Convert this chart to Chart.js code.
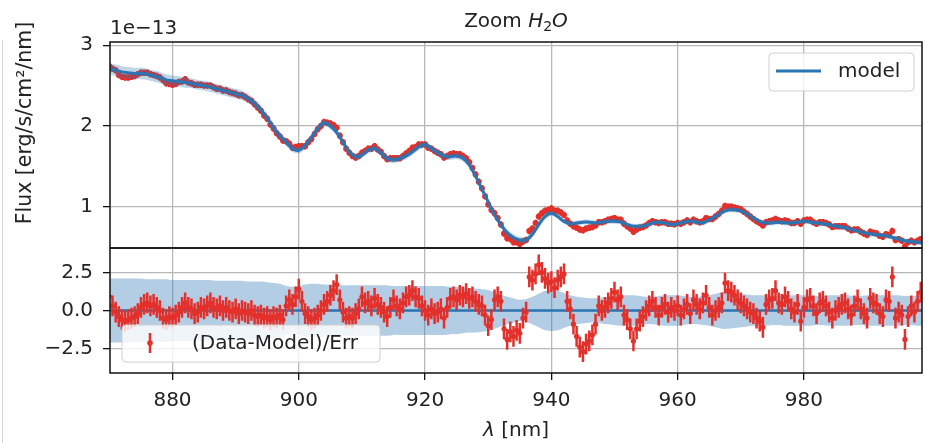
<!DOCTYPE html>
<html>
<head>
<meta charset="utf-8">
<script src="https://cdn.jsdelivr.net/npm/chart.js@4.4.0/dist/chart.umd.min.js"></script>
<style>
  html, body { margin: 0; padding: 0; background: #fff; }
  #wrap { position: relative; width: 926px; height: 443px; overflow: hidden; }
  #wrap canvas { position: absolute; left: 0; top: 0; }
  #edge { position: absolute; left: 2px; top: 40px; width: 1px; height: 403px; background: #d4d4d4; }
</style>
</head>
<body>
<div id="wrap">
  <canvas id="fluxChart" width="926" height="443"></canvas>
  <canvas id="residChart" width="926" height="443"></canvas>
  <div id="edge"></div>
</div>
<script>
// data grid: 0.5 nm for measured points, 1 nm for the model
const dataStart = 870, dataStep = 0.5;
const modelStart = 870, modelStep = 1;

// (data - model) / err
const resid = [
  0.9, 0.3, -0.1, -0.4, -0.6, -0.7, -0.6, -0.5, -0.4, -0.2,
  0.2, 0.4, 0.5, 0.3, 0.4, 0.2, 0.0, -0.5, -0.6, -0.4,
  -0.5, -0.3, -0.1, 0.2, 0.5, 0.2, 0.1, -0.2, -0.1, 0.2,
  0.1, 0.3, 0.5, 0.2, 0.1, 0.3, 0.0, 0.2, 0.0, -0.1,
  0.1, -0.2, 0.0, -0.1, -0.2, 0.0, -0.3, -0.4, -0.3, -0.5,
  -0.4, -0.6, -0.4, -0.5, -0.3, -0.6, 0.3, 0.7, 0.4, 0.9,
  1.4, 0.6, -0.2, -0.4, -0.6, -0.5, -0.3, 0.0, 0.4, 0.6,
  1.0, 1.3, 1.7, 0.7, -0.1, -0.5, -0.4, -0.5, -0.2, 0.1,
  0.9, 0.5, 0.6, 0.3, 0.8, 0.4, 0.2, -0.1, -0.4, 0.2,
  0.7, 0.3, 0.1, 0.5, 0.9, 1.0, 1.3, 0.9, 0.8, 0.3,
  0.0, -0.3, 0.1, -0.2, -0.1, 0.1, -0.5, 0.2, 0.8, 0.9,
  0.7, 1.0, 0.9, 1.1, 0.8, 0.9, 0.6, 0.4, 0.3, -0.3,
  -1.0, -0.6, 0.7, 0.9, 0.6, -1.2, -1.9, -1.4, -1.7, -1.3,
  -1.5, -0.5, -0.1, 2.2, 2.0, 2.4, 3.0, 2.5, 2.1, 1.8,
  1.9, 1.5, 2.0, 2.2, 2.4, 0.6, 0.1, -0.9, -1.7, -2.4,
  -2.7, -2.2, -2.0, -1.6, -0.9, 0.3, 0.0, 0.2, 0.5, 0.8,
  1.2, 0.7, 0.9, -0.3, -0.6, -1.2, -2.0, -1.2, -0.7, -0.4,
  0.0, 0.3, 0.6, 0.2, -0.3, 0.2, 0.4, -0.1, 0.2, 0.0,
  0.3, -0.3, 0.1, 0.4, -0.2, 0.7, 0.4, 0.1, 0.5, 1.0,
  0.2, -0.3, 0.0, 0.2, 0.5, 1.8, 1.3, 1.2, 1.0, 0.7,
  0.5, 0.3, 0.1, -0.1, -0.2, -0.5, -0.7, -1.1, 0.4, 0.7,
  0.8, 1.3, 0.5, 0.4, 0.9, 0.6, 0.1, -0.1, 0.4, -0.7,
  0.2, 0.7, 0.8, 0.3, -0.2, 0.5, 0.6, 0.3, -0.1, -0.5,
  0.0, 0.2, 0.4, 0.5, 0.1, -0.3, 0.3, 0.7, 0.1, -0.2,
  -0.5, 0.8, 0.5, 0.4, -0.2, -0.4, 0.7, 0.6, 2.2, -0.5,
  -0.1, -0.3, -1.9, -0.4, 0.3, -0.1, 0.6, 1.2
];

// measured flux, units of 1e-13 erg/s/cm2/nm
const fluxData = [
  2.74, 2.71, 2.69, 2.63, 2.61, 2.60, 2.60, 2.61, 2.62, 2.64,
  2.66, 2.66, 2.66, 2.64, 2.63, 2.62, 2.60, 2.57, 2.53, 2.52,
  2.51, 2.52, 2.545, 2.55, 2.58, 2.54, 2.53, 2.51, 2.51, 2.51,
  2.50, 2.50, 2.50, 2.48, 2.46, 2.46, 2.44, 2.44, 2.42, 2.41,
  2.40, 2.38, 2.38, 2.36, 2.33, 2.31, 2.27, 2.23, 2.19, 2.13,
  2.09, 2.02, 1.97, 1.91, 1.87, 1.82, 1.81, 1.78, 1.73, 1.74,
  1.75, 1.75, 1.75, 1.80, 1.84, 1.90, 1.96, 2.00, 2.05, 2.04,
  2.03, 2.01, 1.98, 1.88, 1.80, 1.72, 1.67, 1.63, 1.61, 1.63,
  1.67, 1.69, 1.72, 1.72, 1.75, 1.71, 1.68, 1.63, 1.59, 1.60,
  1.60, 1.60, 1.60, 1.63, 1.66, 1.69, 1.73, 1.74, 1.77, 1.77,
  1.77, 1.73, 1.72, 1.69, 1.67, 1.65, 1.61, 1.63, 1.65, 1.66,
  1.65, 1.65, 1.63, 1.60, 1.55, 1.48, 1.40, 1.31, 1.23, 1.13,
  1.03, 0.96, 0.92, 0.86, 0.78, 0.67, 0.61, 0.60, 0.56, 0.56,
  0.54, 0.57, 0.59, 0.70, 0.73, 0.80, 0.88, 0.92, 0.95, 0.96,
  0.98, 0.95, 0.95, 0.93, 0.90, 0.83, 0.79, 0.76, 0.74, 0.72,
  0.71, 0.73, 0.74, 0.75, 0.77, 0.81, 0.81, 0.82, 0.84, 0.85,
  0.86, 0.84, 0.84, 0.79, 0.76, 0.73, 0.69, 0.72, 0.74, 0.75,
  0.77, 0.80, 0.82, 0.81, 0.80, 0.81, 0.81, 0.79, 0.79, 0.785,
  0.80, 0.79, 0.81, 0.83, 0.81, 0.84, 0.82, 0.81, 0.82, 0.86,
  0.85, 0.85, 0.88, 0.91, 0.95, 1.01, 1.00, 1.00, 0.99, 0.98,
  0.97, 0.94, 0.91, 0.88, 0.85, 0.82, 0.80, 0.77, 0.81, 0.82,
  0.83, 0.85, 0.83, 0.82, 0.83, 0.82, 0.80, 0.80, 0.82, 0.79,
  0.83, 0.84, 0.84, 0.81, 0.79, 0.81, 0.81, 0.80, 0.78, 0.75,
  0.76, 0.76, 0.76, 0.76, 0.73, 0.71, 0.72, 0.72, 0.69, 0.67,
  0.65, 0.69, 0.68, 0.67, 0.64, 0.63, 0.66, 0.65, 0.70, 0.59,
  0.60, 0.58, 0.51, 0.56, 0.58, 0.56, 0.58, 0.60
];
const fluxErr = 0.04;
const residErr = 0.68;

// model, 870..999 nm every 1 nm
const modelFlux = [
  2.71, 2.69, 2.67, 2.66, 2.65, 2.65, 2.64, 2.62, 2.60, 2.57,
  2.56, 2.55, 2.54, 2.53, 2.51, 2.50, 2.48, 2.46, 2.44, 2.42,
  2.40, 2.38, 2.34, 2.28, 2.20, 2.10, 1.98, 1.88, 1.80, 1.72,
  1.70, 1.76, 1.86, 1.97, 2.04, 2.00, 1.92, 1.80, 1.68, 1.62,
  1.64, 1.70, 1.72, 1.67, 1.60, 1.58, 1.60, 1.63, 1.68, 1.74,
  1.77, 1.72, 1.67, 1.63, 1.62, 1.63, 1.60, 1.52, 1.38, 1.22,
  1.06, 0.90, 0.78, 0.68, 0.62, 0.59, 0.59, 0.66, 0.78, 0.88,
  0.92, 0.88, 0.82, 0.79, 0.80, 0.81, 0.81, 0.80, 0.81, 0.82,
  0.82, 0.81, 0.78, 0.76, 0.76, 0.77, 0.80, 0.81, 0.80, 0.78,
  0.79, 0.81, 0.82, 0.81, 0.80, 0.84, 0.88, 0.93, 0.96, 0.96,
  0.95, 0.91, 0.86, 0.82, 0.80, 0.80, 0.81, 0.80, 0.80, 0.81,
  0.82, 0.81, 0.80, 0.79, 0.78, 0.76, 0.75, 0.73, 0.71, 0.69,
  0.67, 0.66, 0.65, 0.64, 0.62, 0.60, 0.58, 0.57, 0.56, 0.55
];
// half width of the model uncertainty band (upper panel, flux units)
const fluxSpread = [
  0.07, 0.07, 0.07, 0.07, 0.07, 0.07, 0.07, 0.07, 0.07, 0.07,
  0.065, 0.065, 0.065, 0.06, 0.06, 0.06, 0.06, 0.06, 0.06, 0.06,
  0.06, 0.06, 0.055, 0.055, 0.05, 0.05, 0.05, 0.045, 0.045, 0.04,
  0.04, 0.04, 0.04, 0.04, 0.04, 0.04, 0.04, 0.04, 0.04, 0.04,
  0.04, 0.04, 0.04, 0.04, 0.04, 0.04, 0.04, 0.04, 0.04, 0.04,
  0.04, 0.04, 0.04, 0.04, 0.04, 0.04, 0.04, 0.04, 0.04, 0.04,
  0.04, 0.04, 0.04, 0.04, 0.04, 0.04, 0.04, 0.04, 0.04, 0.04,
  0.03, 0.03, 0.03, 0.03, 0.03, 0.03, 0.03, 0.03, 0.03, 0.03,
  0.03, 0.03, 0.03, 0.03, 0.03, 0.03, 0.03, 0.03, 0.03, 0.03,
  0.03, 0.03, 0.03, 0.03, 0.03, 0.03, 0.03, 0.03, 0.03, 0.03,
  0.03, 0.03, 0.03, 0.03, 0.03, 0.03, 0.03, 0.03, 0.03, 0.03,
  0.03, 0.03, 0.03, 0.03, 0.03, 0.03, 0.03, 0.03, 0.03, 0.03,
  0.03, 0.03, 0.03, 0.03, 0.03, 0.03, 0.03, 0.03, 0.03, 0.03
];
// half width of the band in the residual panel
const residSpread = [
  2.1, 2.1, 2.1, 2.1, 2.1, 2.1, 2.05, 2.05, 2.05, 2.05,
  2.0, 2.0, 2.0, 2.0, 2.0, 2.0, 2.0, 1.95, 1.95, 1.95,
  1.95, 1.95, 1.9, 1.9, 1.9, 1.85, 1.8, 1.75, 1.6, 1.55,
  1.6, 1.7, 1.75, 1.75, 1.7, 1.7, 1.7, 1.65, 1.65, 1.65,
  1.65, 1.65, 1.65, 1.65, 1.65, 1.6, 1.6, 1.6, 1.6, 1.6,
  1.6, 1.6, 1.6, 1.6, 1.55, 1.55, 1.5, 1.45, 1.45, 1.4,
  1.35, 1.2, 1.05, 0.9, 0.8, 0.7, 0.75, 0.9, 1.1, 1.3,
  1.35, 1.3, 1.15, 1.0, 0.9, 0.85, 0.8, 0.8, 0.85, 0.9,
  0.95, 1.0, 1.0, 1.0, 0.95, 0.9, 0.9, 0.95, 1.0, 1.0,
  1.0, 0.95, 0.9, 0.9, 0.95, 1.0, 1.1, 1.2, 1.2, 1.15,
  1.1, 1.05, 1.0, 1.0, 1.0, 0.95, 0.95, 1.0, 1.0, 1.0,
  1.0, 1.0, 0.95, 0.95, 1.0, 1.0, 1.0, 1.0, 0.95, 0.95,
  1.0, 1.0, 1.0, 1.0, 1.0, 1.0, 0.95, 0.95, 1.0, 1.0
];

const xTicks = [880, 900, 920, 940, 960, 980];
const fluxTicks = [1, 2, 3];
const residTicks = [-2.5, 0, 2.5];
const xMin = 870.1, xMax = 998.7;

const red = '#e3302a';
const blue = '#2b75b3';
const gridColor = '#b8b8b8';
const textColor = '#222';
const fontFamily = 'DejaVu Sans';

Chart.defaults.font.family = fontFamily;
Chart.defaults.font.size = 20;
Chart.defaults.color = textColor;

let lam = [];
for (let i = 0; i < resid.length; i++) lam.push(dataStart + i * dataStep);
let lamModel = [];
for (let i = 0; i < modelFlux.length; i++) lamModel.push(modelStart + i * modelStep);

function errSegments(xs, ys, e) {
    let pts = [];
    xs.forEach((x, i) => {
        pts.push({x: x, y: ys[i] - e}, {x: x, y: ys[i] + e}, {x: x, y: null});
    });
    return pts;
}

const framePlugin = {
    id: 'frame',
    afterDraw(chart) {
        const a = chart.chartArea, c = chart.ctx;
        c.save();
        c.strokeStyle = '#111';
        c.lineWidth = 1.5;
        c.strokeRect(a.left, a.top, a.right - a.left, a.bottom - a.top);
        c.restore();
    }
};

function legendBox(c, x, y, w, h) {
    c.beginPath();
    c.roundRect(x, y, w, h, 4);
    c.fillStyle = 'rgba(255,255,255,0.8)';
    c.fill();
    c.strokeStyle = '#d0d0d0';
    c.lineWidth = 1;
    c.stroke();
}

const fluxText = {
    id: 'fluxText',
    afterDraw(chart) {
        const a = chart.chartArea, c = chart.ctx;
        c.save();
        c.fillStyle = textColor;
        c.textBaseline = 'alphabetic';
        // title "Zoom H2O"
        const parts = [
            {t: 'Zoom ', f: '20px "DejaVu Sans"', dy: 0},
            {t: 'H', f: 'italic 20px "DejaVu Sans"', dy: 0},
            {t: '2', f: '14px "DejaVu Sans"', dy: 4},
            {t: 'O', f: 'italic 20px "DejaVu Sans"', dy: 0}
        ];
        let w = 0;
        parts.forEach(p => { c.font = p.f; p.w = c.measureText(p.t).width; w += p.w; });
        let x = (a.left + a.right) / 2 - w / 2;
        parts.forEach(p => { c.font = p.f; c.fillText(p.t, x, a.top - 15 + p.dy); x += p.w; });
        // offset text
        c.font = '20px "DejaVu Sans"';
        c.textAlign = 'left';
        c.fillText('1e\u221213', a.left, a.top - 8);
        // y label
        c.save();
        c.translate(31, a.top + 81);
        c.rotate(-Math.PI / 2);
        c.textAlign = 'center';
        c.font = '20.5px "DejaVu Sans"';
        c.fillText('Flux [erg/s/cm\u00b2/nm]', 0, 0);
        c.restore();
        // legend
        const bx = a.right - 153, by = a.top + 11;
        legendBox(c, bx, by, 145, 38);
        c.strokeStyle = blue;
        c.lineWidth = 3;
        c.beginPath();
        c.moveTo(bx + 7, by + 18);
        c.lineTo(bx + 52, by + 18);
        c.stroke();
        c.fillStyle = textColor;
        c.textBaseline = 'middle';
        c.fillText('model', bx + 69, by + 19);
        c.restore();
    }
};

const residText = {
    id: 'residText',
    afterDraw(chart) {
        const a = chart.chartArea, c = chart.ctx;
        c.save();
        c.fillStyle = textColor;
        c.textBaseline = 'alphabetic';
        // x label
        const p1 = '\u03bb', p2 = ' [nm]';
        c.font = 'italic 20px "DejaVu Sans"';
        const w1 = c.measureText(p1).width;
        c.font = '20px "DejaVu Sans"';
        const w2 = c.measureText(p2).width;
        let x = (a.left + a.right) / 2 - (w1 + w2) / 2;
        c.font = 'italic 20px "DejaVu Sans"';
        c.fillText(p1, x, 436);
        c.font = '20px "DejaVu Sans"';
        c.fillText(p2, x + w1, 436);
        // legend
        const bx = a.left + 12, by = a.bottom - 48;
        legendBox(c, bx, by, 258, 37);
        const mx = bx + 28, my = by + 18;
        c.strokeStyle = red;
        c.lineWidth = 2.5;
        c.beginPath();
        c.moveTo(mx, my - 10);
        c.lineTo(mx, my + 10);
        c.stroke();
        c.fillStyle = red;
        c.beginPath();
        c.arc(mx, my, 2.8, 0, Math.PI * 2);
        c.fill();
        c.fillStyle = textColor;
        c.textBaseline = 'middle';
        c.fillText('(Data-Model)/Err', bx + 70, my + 1);
        c.restore();
    }
};

function xScale(showLabels) {
    return {
        type: 'linear',
        min: xMin,
        max: xMax,
        afterBuildTicks: s => { s.ticks = xTicks.map(v => ({value: v})); },
        ticks: {display: showLabels, padding: 9, color: textColor, callback: v => String(v)},
        grid: {color: gridColor, lineWidth: 1.3, drawTicks: showLabels, tickLength: 7, tickColor: '#111', tickWidth: 1.3},
        border: {display: false},
        afterFit: s => { s.height = showLabels ? 70 : 0; }
    };
}

function yScale(min, max, ticks, fmt) {
    return {
        min: min,
        max: max,
        afterBuildTicks: s => { s.ticks = ticks.map(v => ({value: v})); },
        ticks: {padding: 10, color: textColor, callback: fmt},
        grid: {color: gridColor, lineWidth: 1.3, tickLength: 7, tickColor: '#111', tickWidth: 1.3},
        border: {display: false},
        afterFit: s => { s.width = 110; }
    };
}

const common = {
    responsive: false,
    animation: false,
    events: [],
    devicePixelRatio: 1,
    plugins: {legend: {display: false}, title: {display: false}, tooltip: {enabled: false}}
};

new Chart(document.getElementById('fluxChart'), {
    type: 'line',
    data: {
        datasets: [
            {data: errSegments(lam, fluxData, fluxErr), borderColor: red, borderWidth: 2.5, pointRadius: 0, spanGaps: false, order: 4},
            {data: lam.map((x, i) => ({x: x, y: fluxData[i]})), showLine: false, pointRadius: 3, pointBackgroundColor: red, pointBorderWidth: 0, order: 3},
            {data: lamModel.map((x, i) => ({x: x, y: modelFlux[i] - fluxSpread[i]})), borderColor: 'transparent', borderWidth: 0, pointRadius: 0, fill: false, tension: 0.35, order: 2},
            {data: lamModel.map((x, i) => ({x: x, y: modelFlux[i] + fluxSpread[i]})), borderColor: 'transparent', borderWidth: 0, pointRadius: 0, fill: '-1', tension: 0.35, backgroundColor: 'rgba(43,117,179,0.3)', order: 2},
            {data: lamModel.map((x, i) => ({x: x, y: modelFlux[i]})), borderColor: blue, borderWidth: 3, pointRadius: 0, tension: 0.35, order: 1}
        ]
    },
    options: Object.assign({}, common, {
        layout: {padding: {left: 0, right: 1, top: 42, bottom: 195}},
        scales: {
            x: xScale(false),
            y: yScale(0.49, 3.04, fluxTicks, v => String(v))
        }
    }),
    plugins: [framePlugin, fluxText]
});

new Chart(document.getElementById('residChart'), {
    type: 'line',
    data: {
        datasets: [
            {data: lamModel.map((x, i) => ({x: x, y: -residSpread[i]})), borderColor: 'transparent', borderWidth: 0, pointRadius: 0, fill: false, tension: 0.35, order: 5},
            {data: lamModel.map((x, i) => ({x: x, y: residSpread[i]})), borderColor: 'transparent', borderWidth: 0, pointRadius: 0, fill: '-1', tension: 0.35, backgroundColor: 'rgba(43,117,179,0.36)', order: 5},
            {data: lamModel.map(x => ({x: x, y: 0})), borderColor: blue, borderWidth: 2.5, pointRadius: 0, order: 4},
            {data: errSegments(lam, resid, residErr), borderColor: red, borderWidth: 2.5, pointRadius: 0, spanGaps: false, order: 2},
            {data: lam.map((x, i) => ({x: x, y: resid[i]})), showLine: false, pointRadius: 2.6, pointBackgroundColor: red, pointBorderWidth: 0, order: 1}
        ]
    },
    options: Object.assign({}, common, {
        layout: {padding: {left: 0, right: 1, top: 248, bottom: 0}},
        scales: {
            x: xScale(true),
            y: yScale(-4.1, 4.1, residTicks, v => (v < 0 ? '\u2212' : '') + Math.abs(v).toFixed(1))
        }
    }),
    plugins: [framePlugin, residText]
});
</script>
</body>
</html>
